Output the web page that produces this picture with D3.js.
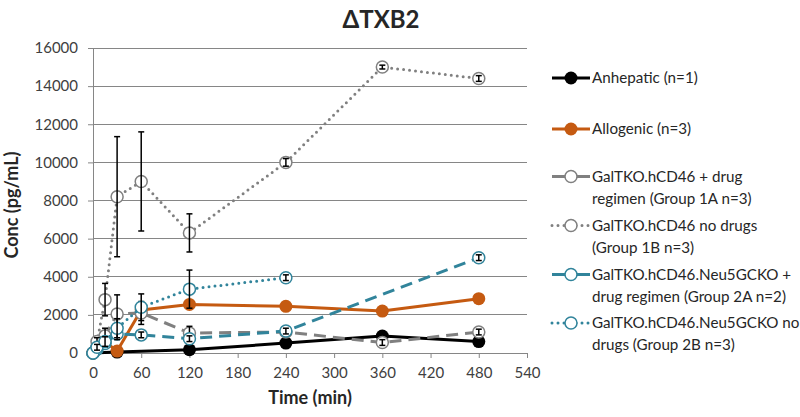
<!DOCTYPE html>
<html><head><meta charset="utf-8">
<script src="https://cdn.jsdelivr.net/npm/d3@7"></script>
<style>html,body{margin:0;padding:0;background:#fff;}svg{display:block;}</style>
</head><body>
<svg id="c" width="800" height="417"></svg>
<script>
// ---- data ----
const xTicks = [0,60,120,180,240,300,360,420,480,540];
const yTicks = [0,2000,4000,6000,8000,10000,12000,14000,16000];

const tAnhepatic = [0,30,120,240,360,480];
const vAnhepatic = [0,50,170,520,890,600];

const tAllogenic = [0,5,15,30,60,120,240,360,480];
const vAllogenic = [0,250,600,100,2250,2550,2450,2200,2850];

const t1A = [0,5,15,30,60,120,240,360,480];
const v1A = [0,300,900,2050,2100,1050,1100,550,1100];
const e1A = [0,150,400,1000,600,350,150,150,150];

const t1B = [0,5,15,30,60,120,240,360,480];
const v1B = [0,600,2800,8200,9000,6300,10000,15000,14400];
const e1B = [0,200,850,3150,2600,1000,200,100,150];

const t2A = [0,5,15,30,60,120,240,480];
const v2A = [0,200,500,1000,950,750,1150,5000];
const e2A = [0,100,200,300,150,150,150,150];

const t2B = [0,5,15,30,60,120,240];
const v2B = [0,300,600,1300,2400,3350,3950];
const e2B = [0,150,250,500,700,1000,150];

const legendLabels = [
  ["Anhepatic (n=1)"],
  ["Allogenic (n=3)"],
  ["GalTKO.hCD46 + drug","regimen (Group 1A n=3)"],
  ["GalTKO.hCD46 no drugs","(Group 1B n=3)"],
  ["GalTKO.hCD46.Neu5GCKO +","drug regimen (Group 2A n=2)"],
  ["GalTKO.hCD46.Neu5GCKO no","drugs (Group 2B n=3)"]
];

const ORANGE = "#C55A11", GREY = "#808080", TEAL = "#31849B";
const series = [
  {t:tAnhepatic, v:vAnhepatic, e:null, color:"#000", dash:null, filled:true},
  {t:tAllogenic, v:vAllogenic, e:null, color:ORANGE, dash:null, filled:true},
  {t:t1A, v:v1A, e:e1A, color:GREY, dash:"12,7", filled:false},
  {t:t1B, v:v1B, e:e1B, color:GREY, dash:"0,6", filled:false, dotted:true},
  {t:t2A, v:v2A, e:e2A, color:TEAL, dash:"12,7", filled:false},
  {t:t2B, v:v2B, e:e2B, color:TEAL, dash:"0,6", filled:false, dotted:true}
];

// ---- layout ----
const FONT = "Lato, 'Open Sans', sans-serif";
const svg = d3.select("#c");
const x = d3.scaleLinear().domain([0,540]).range([93,527]);
const y = d3.scaleLinear().domain([0,16000]).range([353,48]);
const AX = "#868686";

// gridlines
svg.append("g").selectAll("line").data(yTicks.filter(d=>d>0)).join("line")
  .attr("x1", x(0)).attr("x2", x(540)).attr("y1", d=>y(d)).attr("y2", d=>y(d))
  .attr("stroke", AX).attr("stroke-width", 1).attr("shape-rendering","crispEdges");

// axes
const yAxis = d3.axisLeft(y).tickValues(yTicks).tickSize(5).tickPadding(10).tickFormat(d3.format("d"));
const gy = svg.append("g").attr("transform", `translate(${x(0)},0)`).call(yAxis);
const xAxis = d3.axisBottom(x).tickValues(xTicks).tickSize(5).tickPadding(9).tickFormat(d3.format("d"));
const gx = svg.append("g").attr("transform", `translate(0,${y(0)})`).call(xAxis);
[gx, gy].forEach(g=>{
  g.select(".domain").attr("stroke", AX).attr("stroke-width",1);
  g.selectAll(".tick line").attr("stroke", AX);
  g.selectAll("text").attr("font-family", FONT).attr("font-size", 15).attr("fill", "#404040");
});

// series
series.forEach(s=>{
  const pts = s.t.map((t,i)=>({t, v:s.v[i], e:s.e ? s.e[i] : 0}));
  const line = d3.line().x(d=>x(d.t)).y(d=>y(d.v));
  const p = svg.append("path").datum(pts).attr("d", line).attr("fill","none")
    .attr("stroke", s.color).attr("stroke-width", 3).attr("stroke-linejoin","round");
  if (s.dash) p.attr("stroke-dasharray", s.dash);
  if (s.dotted) p.attr("stroke-linecap","round");
  svg.append("g").selectAll("circle").data(pts).join("circle")
    .attr("cx", d=>x(d.t)).attr("cy", d=>y(d.v))
    .attr("r", s.filled ? 6.5 : 6)
    .attr("fill", s.filled ? s.color : "#fff")
    .attr("stroke", s.color).attr("stroke-width", s.filled ? 0 : 1.5);
  if (s.e) {
    const eg = svg.append("g").attr("stroke","#000").attr("stroke-width",1.5);
    pts.filter(d=>d.e>0).forEach(d=>{
      const cx = x(d.t), y1 = y(d.v + d.e), y2 = y(Math.max(0, d.v - d.e));
      eg.append("line").attr("x1",cx).attr("x2",cx).attr("y1",y1).attr("y2",y2);
      eg.append("line").attr("x1",cx-3).attr("x2",cx+3).attr("y1",y1).attr("y2",y1);
      eg.append("line").attr("x1",cx-3).attr("x2",cx+3).attr("y1",y2).attr("y2",y2);
    });
  }
});

// legend
const legendY = [78, 129, 176.5, 225.5, 274.5, 323];
series.forEach((s,i)=>{
  const g = svg.append("g").attr("transform", `translate(0,${legendY[i]})`);
  const l = g.append("line").attr("x1",552).attr("x2",590).attr("y1",0).attr("y2",0)
    .attr("stroke", s.color).attr("stroke-width",3);
  if (s.dotted) l.attr("stroke-dasharray","0,6").attr("stroke-linecap","round");
  g.append("circle").attr("cx",571).attr("cy",0).attr("r", s.filled?6.5:6)
    .attr("fill", s.filled ? s.color : "#fff").attr("stroke", s.color).attr("stroke-width", s.filled?0:1.5);
  legendLabels[i].forEach((txt,j)=>{
    g.append("text").attr("x",592).attr("y", j*22 + 5).text(txt)
      .attr("font-family", FONT).attr("font-size", 15.2).attr("fill","#262626");
  });
});

// titles
svg.append("text").attr("x", 381).attr("y", 28).attr("text-anchor","middle")
  .attr("font-family", FONT).attr("font-weight","bold").attr("font-size", 24).attr("fill","#262626").text("ΔTXB2");
svg.append("text").attr("x", 310).attr("y", 404).attr("text-anchor","middle")
  .attr("font-family", FONT).attr("font-weight","bold").attr("font-size", 18).attr("fill","#262626").text("Time (min)");
svg.append("text").attr("transform","translate(18,205) rotate(-90)").attr("text-anchor","middle")
  .attr("font-family", FONT).attr("font-weight","bold").attr("font-size", 18).attr("fill","#262626").text("Conc (pg/mL)");
</script>
</body></html>
